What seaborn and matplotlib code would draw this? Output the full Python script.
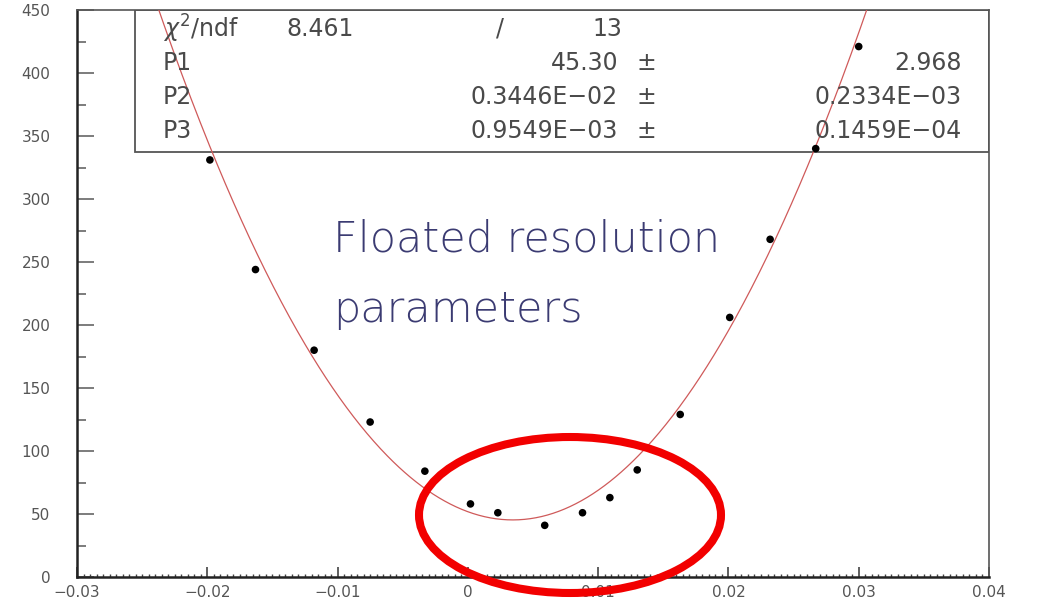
import numpy as np
import pandas as pd
import matplotlib
matplotlib.use("Agg")
import matplotlib.pyplot as plt
import seaborn as sns
from matplotlib.patches import Ellipse, Rectangle
from matplotlib.ticker import FixedLocator, FixedFormatter, MultipleLocator

# Measured points (offset vs. counts)
offset = [-0.0198, -0.0163, -0.0118, -0.0075, -0.0033, 0.0002, 0.0023, 0.0059,
          0.0088, 0.0109, 0.0130, 0.0163, 0.0201, 0.0232, 0.0267, 0.0300]
counts = [331, 244, 180, 123, 84, 58, 51, 41, 51, 63, 85, 129, 206, 268, 340, 421]

# Fit results
chi2_text = "8.461"
ndf_text = "13"
par_names = ["P1", "P2", "P3"]
par_values = [45.30, 0.3446e-02, 0.9549e-03]
par_text = ["45.30", "0.3446E\u221202", "0.9549E\u221203"]
err_text = ["2.968", "0.2334E\u221203", "0.1459E\u221204"]

# Axis ticks
x_ticks = [-0.03, -0.02, -0.01, 0.0, 0.01, 0.02, 0.03, 0.04]
x_tick_labels = ["\u22120.03", "\u22120.02", "\u22120.01", "0", "0.01", "0.02", "0.03", "0.04"]
y_ticks = [0, 50, 100, 150, 200, 250, 300, 350, 400, 450]

annotation = ["Floated resolution", "parameters"]

sns.set_style("white")
plt.rcParams["font.family"] = ["DejaVu Sans"]

W, H = 1039, 604
fig = plt.figure(figsize=(W / 100, H / 100), dpi=100)
L, R, T, B = 77, 989, 10, 577
ax = fig.add_axes([L / W, 1 - B / H, (R - L) / W, (B - T) / H])


def fx(px):
    return (px - L) / (R - L)


def fy(py):
    return (B - py) / (B - T)


df = pd.DataFrame({"offset": offset, "counts": counts})

# Fitted parabola from the fit parameters
p1, p2, p3 = par_values
xg = np.linspace(-0.03, 0.04, 800)
fit = pd.DataFrame({"offset": xg, "counts": p1 + 0.5 * ((xg - p2) / p3) ** 2})
sns.lineplot(data=fit, x="offset", y="counts", ax=ax, color="#cf5a5a",
             linewidth=0.9, sort=False, estimator=None, zorder=3)

sns.scatterplot(data=df, x="offset", y="counts", ax=ax, color="black",
                s=30, edgecolor="none", zorder=4)

ax.set_xlim(-0.03, 0.04)
ax.set_ylim(0, 450)
ax.set_xlabel("")
ax.set_ylabel("")

ax.xaxis.set_major_locator(FixedLocator(x_ticks))
ax.xaxis.set_major_formatter(FixedFormatter(x_tick_labels))
ax.xaxis.set_minor_locator(MultipleLocator(0.0005))
ax.yaxis.set_major_locator(FixedLocator(y_ticks))
ax.yaxis.set_minor_locator(MultipleLocator(25))

ax.tick_params(which="both", bottom=True, left=True, top=False, right=False)
ax.tick_params(axis="x", which="major", direction="in", length=7, width=1.2,
               colors="#444444", labelsize=11, pad=6, labelcolor="#555555")
ax.tick_params(axis="x", which="minor", direction="in", length=2.2, width=1.0,
               colors="#444444")
ax.tick_params(axis="y", which="major", direction="in", length=12, width=1.2,
               colors="#666666", labelsize=11, pad=19, labelcolor="#555555")
ax.tick_params(axis="y", which="minor", direction="in", length=6.5, width=1.2,
               colors="#666666")

for side in ["left", "bottom"]:
    ax.spines[side].set_linewidth(1.8)
    ax.spines[side].set_color("#222222")
for side in ["right", "top"]:
    ax.spines[side].set_linewidth(1.2)
    ax.spines[side].set_color("#555555")

# Statistics box
ax.add_patch(Rectangle((fx(135), fy(152)), 1 - fx(135), 1 - fy(152),
                       transform=ax.transAxes, fill=False,
                       edgecolor="#555555", linewidth=1.3, zorder=2))

stat_kw = dict(transform=ax.transAxes, fontsize=17, color="#4a4a4a",
               va="center", zorder=5)
rows_y = [29, 63, 97, 131]
ax.text(fx(163), fy(rows_y[0]), r"$\chi^{2}$/ndf", ha="left", **stat_kw)
ax.text(fx(286), fy(rows_y[0]), chi2_text, ha="left", **stat_kw)
ax.text(fx(500), fy(rows_y[0]), "/", ha="center", **stat_kw)
ax.text(fx(622), fy(rows_y[0]), ndf_text, ha="right", **stat_kw)
for i, (name, val, err) in enumerate(zip(par_names, par_text, err_text)):
    yy = fy(rows_y[i + 1])
    ax.text(fx(163), yy, name, ha="left", **stat_kw)
    ax.text(fx(618), yy, val, ha="right", **stat_kw)
    ax.text(fx(646), yy, "\u00b1", ha="center", **stat_kw)
    ax.text(fx(962), yy, err, ha="right", **stat_kw)

# Handwritten-style note
note_kw = dict(transform=ax.transAxes, fontsize=31, color="#3b3b72",
               ha="left", va="baseline", fontweight="light", zorder=5)
ax.text(fx(333), fy(251), annotation[0], **note_kw)
ax.text(fx(333), fy(322), annotation[1], **note_kw)

# Red ellipse highlighting the minimum region
ell = Ellipse((fx(570), fy(515)), width=302 / (R - L), height=156 / (B - T),
              transform=ax.transAxes, fill=False, edgecolor="#f20000",
              linewidth=5.8, clip_on=False, zorder=6)
ax.add_patch(ell)

fig.savefig("out.png", dpi=100, facecolor="white")
